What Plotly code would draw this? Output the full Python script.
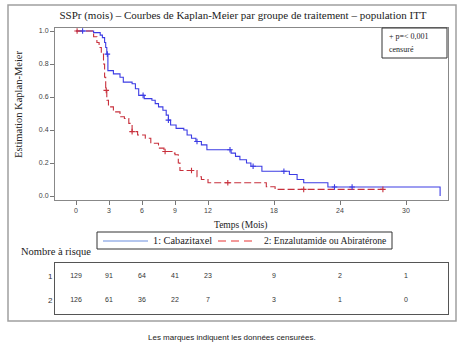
import plotly.graph_objects as go
import numpy as np

# ---- data ----
blue_t = [0, 1.6, 2.2, 2.4, 2.6, 2.7, 2.8, 2.9, 3.4, 4.0, 4.3, 5.1, 5.4, 5.7, 6.2, 6.9, 7.2, 7.5, 7.9, 8.2,
          8.4, 8.6, 9.1, 9.8, 10.1, 10.5, 10.9, 11.4, 11.9, 14.1, 14.5, 14.9, 15.5, 15.9, 16.9, 19.4, 20.1, 20.7, 22.9, 33.1]
blue_s = [1.0, 0.99, 0.975, 0.96, 0.93, 0.90, 0.86, 0.76, 0.74, 0.72, 0.69, 0.68, 0.65, 0.61, 0.59, 0.58, 0.56, 0.54, 0.52, 0.49,
          0.46, 0.43, 0.41, 0.40, 0.37, 0.35, 0.33, 0.31, 0.28, 0.26, 0.24, 0.22, 0.20, 0.18, 0.15, 0.13, 0.10, 0.08, 0.055, 0.0]
blue_cens = [0.6, 2.85, 6.1, 8.4, 11.0, 14.0, 16.1, 18.9, 23.5, 25.1]

red_t = [0, 1.6, 1.9, 2.1, 2.3, 2.5, 2.6, 2.7, 2.8, 2.95, 3.4, 4.0, 4.4, 4.8, 5.1, 5.6, 6.3, 6.8, 7.5, 8.0,
         8.8, 9.0, 9.3, 9.45, 11.0, 11.4, 12.0, 17.3, 18.1, 27.9]
red_s = [1.0, 0.965, 0.93, 0.90, 0.86, 0.80, 0.72, 0.64, 0.58, 0.54, 0.51, 0.48, 0.47, 0.44, 0.39, 0.37, 0.35, 0.32, 0.29, 0.27,
         0.26, 0.25, 0.20, 0.155, 0.117, 0.10, 0.08, 0.056, 0.04, 0.04]
red_cens = [0.1, 2.75, 5.1, 8.1, 10.5, 13.8, 20.7, 27.9]

risk_times = [0, 3, 6, 9, 12, 18, 24, 30]
risk_1 = [129, 91, 64, 41, 23, 9, 2, 1]
risk_2 = [126, 61, 36, 22, 7, 3, 1, 0]

x_ticks = [0, 3, 6, 9, 12, 18, 24, 30]
y_ticks = [0.0, 0.2, 0.4, 0.6, 0.8, 1.0]

names = ["1: Cabazitaxel", "2: Enzalutamide ou Abiratérone"]
BLUE = "#3c3ce4"
RED = "#c8303c"
LEG_BLUE = "#6a8ede"
LEG_RED = "#e83434"
W, H = 466, 347


def step_value(ts, ss, t):
    idx = np.searchsorted(ts, t, side="right") - 1
    return ss[max(idx, 0)]


def px(x):
    return x / W


def py(y):
    return 1 - y / H


fig = go.Figure()
fig.add_trace(go.Scatter(x=blue_t, y=blue_s, mode="lines", line=dict(shape="hv", color=BLUE, width=1.1),
                         name=names[0], showlegend=False))
fig.add_trace(go.Scatter(x=red_t, y=red_s, mode="lines", line=dict(shape="hv", color=RED, width=1.1, dash="7px,3px"),
                         name=names[1], showlegend=False))
fig.add_trace(go.Scatter(x=blue_cens, y=[step_value(blue_t, blue_s, t) for t in blue_cens], mode="markers",
                         marker=dict(symbol="cross-thin", size=4, line=dict(color=BLUE, width=1.1)), showlegend=False))
fig.add_trace(go.Scatter(x=red_cens, y=[step_value(red_t, red_s, t) for t in red_cens], mode="markers",
                         marker=dict(symbol="cross-thin", size=4, line=dict(color=RED, width=1.1)), showlegend=False))

# risk table
fig.add_trace(go.Scatter(x=risk_times, y=[1] * len(risk_times), text=[str(v) for v in risk_1], mode="text",
                         textfont=dict(family="Liberation Sans", size=7, color="#333"), xaxis="x2", yaxis="y2",
                         showlegend=False))
fig.add_trace(go.Scatter(x=risk_times, y=[2] * len(risk_times), text=[str(v) for v in risk_2], mode="text",
                         textfont=dict(family="Liberation Sans", size=7, color="#333"), xaxis="x2", yaxis="y2",
                         showlegend=False))

xr = [(55 - 76) / 11, (448 - 76) / 11]
xdom = [px(55), px(448)]

fig.update_layout(
    width=W, height=H, autosize=False, margin=dict(l=0, r=0, t=0, b=0),
    paper_bgcolor="white", plot_bgcolor="white", showlegend=False,
    title=dict(text="SSPr (mois) – Courbes de Kaplan-Meier par groupe de traitement – population ITT",
               x=px(243), xanchor="center", y=py(15), yanchor="middle",
               font=dict(family="Liberation Serif", size=11, color="#222")),
    xaxis=dict(domain=xdom, range=xr, tickvals=x_ticks, ticks="outside", ticklen=4, tickcolor="#777",
               showline=True, linecolor="#888", mirror=True, showgrid=False, zeroline=False,
               tickfont=dict(family="Liberation Sans", size=7, color="#444")),
    yaxis=dict(domain=[py(200), py(28)], range=[-4 / 165, 168 / 165], tickvals=y_ticks, tickformat=".1f",
               ticks="outside", ticklen=4, tickcolor="#777", showline=True, linecolor="#888", mirror=True,
               showgrid=False, zeroline=False, tickfont=dict(family="Liberation Sans", size=7, color="#444")),
    xaxis2=dict(domain=xdom, range=xr, anchor="y2", showticklabels=False, ticks="", showline=True,
                linecolor="#555", mirror=True, showgrid=False, zeroline=False),
    yaxis2=dict(domain=[py(314), py(263)], range=[1 + 38 / 24, 1 - 13 / 24], anchor="x2",
                tickvals=[1, 2], ticktext=["1", "2"], ticks="", showline=True, linecolor="#555", mirror=True,
                showgrid=False, zeroline=False, tickfont=dict(family="Liberation Sans", size=8, color="#333")),
)

# outer frame
fig.add_shape(type="rect", xref="paper", yref="paper", x0=px(8), x1=px(456), y0=py(321), y1=py(5),
              line=dict(color="#a0a0a0", width=1.5))
# p-value box
fig.add_shape(type="rect", xref="paper", yref="paper", x0=px(382), x1=px(447), y0=py(58), y1=py(28),
              line=dict(color="#333", width=1), fillcolor="white")
# series legend box
fig.add_shape(type="rect", xref="paper", yref="paper", x0=px(97), x1=px(392), y0=py(249), y1=py(232),
              line=dict(color="#333", width=1), fillcolor="white")
fig.add_shape(type="line", xref="paper", yref="paper", x0=px(103), x1=px(148), y0=py(241), y1=py(241),
              line=dict(color=LEG_BLUE, width=1.2))
fig.add_shape(type="line", xref="paper", yref="paper", x0=px(218), x1=px(256), y0=py(241), y1=py(241),
              line=dict(color=LEG_RED, width=1.2, dash="8px,5px"))

ann = [
    dict(text=names[0], x=px(151), y=py(240.5), xanchor="left", yanchor="middle",
         font=dict(family="Liberation Serif", size=10.3, color="#222")),
    dict(text=names[1], x=px(262), y=py(240.5), xanchor="left", yanchor="middle",
         font=dict(family="Liberation Serif", size=9.6, color="#222")),
    dict(text="+ p=< 0,001", x=px(387), y=py(36), xanchor="left", yanchor="middle",
         font=dict(family="Liberation Serif", size=8, color="#222")),
    dict(text="censuré", x=px(387), y=py(49), xanchor="left", yanchor="middle",
         font=dict(family="Liberation Serif", size=8, color="#222")),
    dict(text="Estimation Kaplan-Meier", x=px(19), y=py(104), textangle=-90, xanchor="center", yanchor="middle",
         font=dict(family="Liberation Serif", size=10.5, color="#222")),
    dict(text="Temps (Mois)", x=px(240), y=py(225), xanchor="center", yanchor="middle",
         font=dict(family="Liberation Serif", size=9.5, color="#222")),
    dict(text="Nombre à risque", x=px(19), y=py(251), xanchor="left", yanchor="middle",
         font=dict(family="Liberation Serif", size=10.5, color="#222")),
    dict(text="Les marques indiquent les données censurées.", x=px(232), y=py(337), xanchor="center",
         yanchor="middle", font=dict(family="Liberation Sans", size=8, color="#222")),
]
for a in ann:
    fig.add_annotation(xref="paper", yref="paper", showarrow=False, **a)

fig.write_html("out.html")
